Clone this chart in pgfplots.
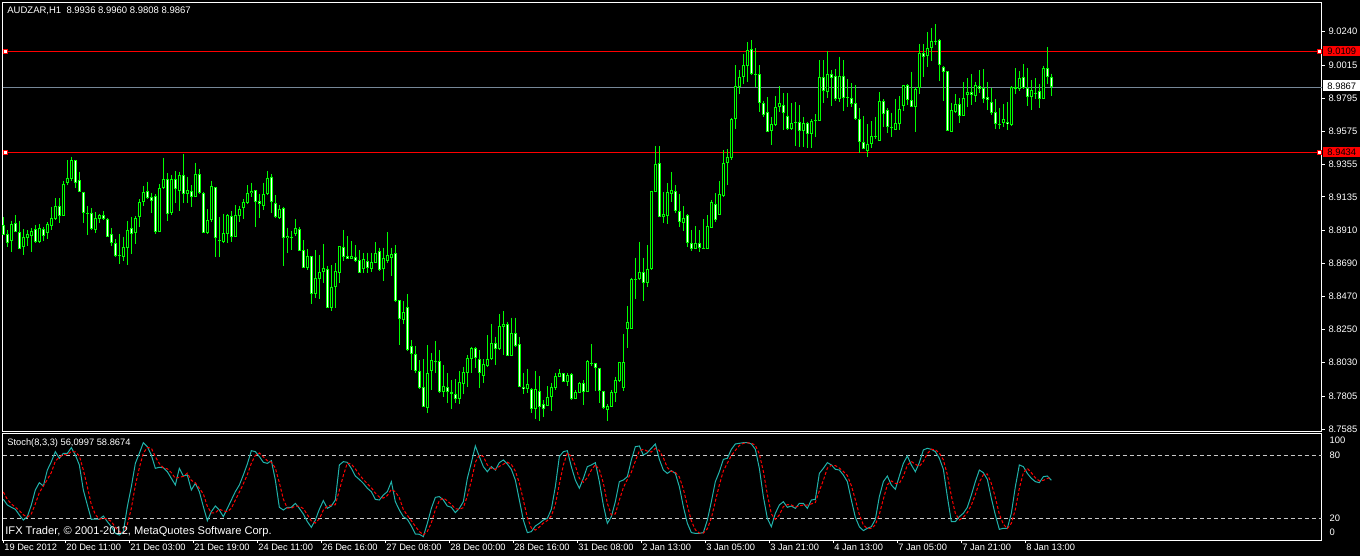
\documentclass[border=0pt]{standalone}
\usepackage{fontspec}
\setmainfont{Liberation Sans}
\usepackage{pgfplots}
\usepackage{pgfplotstable}
\pgfplotsset{compat=1.18}

\definecolor{candle}{RGB}{0,255,0}
\definecolor{kline}{RGB}{32,178,170}
\definecolor{bidline}{RGB}{119,136,153}
\definecolor{lvl}{RGB}{200,200,200}
\newcommand\mtfont{\fontsize{4.65}{5}\selectfont}
\newcommand\pricefont{\fontsize{4.7}{5}\selectfont}

% AUDZAR H1 candles: index, open, high, low, close
\pgfplotstableread{
i o h l c
0 8.8948 8.8999 8.8881 8.8881
1 8.8886 8.8915 8.8799 8.8830
2 8.8841 8.8975 8.8770 8.8953
3 8.8959 8.9015 8.8904 8.8904
4 8.8899 8.8975 8.8786 8.8786
5 8.8803 8.8919 8.8748 8.8866
6 8.8863 8.8915 8.8808 8.8886
7 8.8877 8.8926 8.8770 8.8906
8 8.8919 8.8948 8.8826 8.8837
9 8.8837 8.8955 8.8830 8.8926
10 8.8919 8.8933 8.8843 8.8877
11 8.8892 8.8966 8.8855 8.8953
12 8.8944 8.9071 8.8915 8.8993
13 8.8990 8.9126 8.8982 8.9075
14 8.9075 8.9126 8.8959 8.9010
15 8.9010 8.9242 8.9010 8.9220
16 8.9231 8.9382 8.9215 8.9260
17 8.9253 8.9405 8.9244 8.9382
18 8.9382 8.9382 8.9193 8.9231
19 8.9249 8.9304 8.9166 8.9166
20 8.9166 8.9171 8.8964 8.9026
21 8.9026 8.9075 8.8881 8.9026
22 8.9026 8.9060 8.8915 8.8919
23 8.8915 8.9037 8.8897 8.8993
24 8.8988 8.9022 8.8959 8.9015
25 8.9013 8.9042 8.8982 8.8990
26 8.8986 8.8993 8.8870 8.8870
27 8.8886 8.8926 8.8808 8.8826
28 8.8826 8.8855 8.8737 8.8743
29 8.8745 8.8888 8.8688 8.8745
30 8.8737 8.8870 8.8710 8.8799
31 8.8792 8.8975 8.8681 8.8915
32 8.8926 8.9004 8.8754 8.8888
33 8.8892 8.9008 8.8821 8.8993
34 8.8999 8.9120 8.8933 8.9100
35 8.9100 8.9211 8.9077 8.9166
36 8.9175 8.9238 8.9122 8.9131
37 8.9133 8.9164 8.9031 8.9111
38 8.9144 8.9153 8.8886 8.8904
39 8.8899 8.9222 8.8899 8.9193
40 8.9193 8.9398 8.9189 8.9253
41 8.9253 8.9293 8.8977 8.9022
42 8.9026 8.9282 8.9015 8.9253
43 8.9253 8.9309 8.9093 8.9186
44 8.9178 8.9304 8.9044 8.9282
45 8.9282 8.9422 8.9097 8.9153
46 8.9153 8.9271 8.9093 8.9182
47 8.9178 8.9215 8.9071 8.9133
48 8.9133 8.9365 8.9133 8.9287
49 8.9287 8.9322 8.9155 8.9160
50 8.9160 8.9171 8.8892 8.8892
51 8.8892 8.9055 8.8888 8.8982
52 8.8982 8.9244 8.8970 8.9209
53 8.9200 8.9200 8.8732 8.8859
54 8.8848 8.8999 8.8737 8.8848
55 8.8837 8.9022 8.8826 8.8892
56 8.8886 8.9022 8.8826 8.9015
57 8.9008 8.9042 8.8837 8.8870
58 8.8870 8.9082 8.8866 8.9015
59 8.9008 8.9075 8.8970 8.9055
60 8.9060 8.9122 8.8986 8.9102
61 8.9093 8.9215 8.9086 8.9160
62 8.9160 8.9231 8.9133 8.9178
63 8.9182 8.9182 8.8937 8.9104
64 8.9108 8.9153 8.8997 8.9086
65 8.9077 8.9231 8.9048 8.9155
66 8.9153 8.9309 8.9149 8.9264
67 8.9271 8.9287 8.9026 8.9100
68 8.9093 8.9149 8.8997 8.8999
69 8.8997 8.9082 8.8988 8.9055
70 8.9060 8.9071 8.8676 8.8859
71 8.8859 8.8930 8.8759 8.8875
72 8.8870 8.8910 8.8781 8.8870
73 8.8886 8.8988 8.8877 8.8926
74 8.8921 8.8933 8.8777 8.8777
75 8.8781 8.8848 8.8659 8.8663
76 8.8663 8.8788 8.8647 8.8741
77 8.8741 8.8741 8.8418 8.8485
78 8.8485 8.8781 8.8458 8.8592
79 8.8585 8.8748 8.8452 8.8632
80 8.8636 8.8821 8.8558 8.8659
81 8.8654 8.8676 8.8396 8.8396
82 8.8396 8.8681 8.8376 8.8536
83 8.8536 8.8692 8.8396 8.8641
84 8.8625 8.8808 8.8558 8.8808
85 8.8799 8.8915 8.8707 8.8736
86 8.8741 8.8874 8.8719 8.8719
87 8.8719 8.8841 8.8719 8.8741
88 8.8732 8.8814 8.8699 8.8710
89 8.8714 8.8781 8.8625 8.8625
90 8.8652 8.8759 8.8625 8.8719
91 8.8707 8.8763 8.8625 8.8663
92 8.8654 8.8763 8.8636 8.8699
93 8.8692 8.8834 8.8692 8.8763
94 8.8774 8.8797 8.8643 8.8647
95 8.8652 8.8797 8.8576 8.8725
96 8.8707 8.8901 8.8692 8.8748
97 8.8730 8.8797 8.8607 8.8754
98 8.8759 8.8814 8.8436 8.8443
99 8.8447 8.8447 8.8146 8.8318
100 8.8313 8.8440 8.8287 8.8365
101 8.8398 8.8487 8.8108 8.8113
102 8.8140 8.8180 8.7979 8.8084
103 8.8084 8.8140 8.7961 8.7975
104 8.7975 8.8046 8.7850 8.7857
105 8.7863 8.8050 8.7734 8.7734
106 8.7728 8.8146 8.7694 8.7957
107 8.7975 8.8091 8.7846 8.8046
108 8.8042 8.8173 8.7957 8.8042
109 8.8039 8.8113 8.7823 8.7830
110 8.7835 8.8013 8.7801 8.7872
111 8.7863 8.7957 8.7761 8.7835
112 8.7832 8.7912 8.7721 8.7819
113 8.7817 8.7919 8.7761 8.7785
114 8.7783 8.7970 8.7750 8.7897
115 8.7886 8.8002 8.7819 8.7964
116 8.7957 8.8079 8.7868 8.8057
117 8.8055 8.8135 8.7957 8.8124
118 8.8126 8.8135 8.7990 8.8062
119 8.8051 8.8113 8.7857 8.7957
120 8.7941 8.8050 8.7895 8.8017
121 8.8008 8.8213 8.8002 8.8050
122 8.8050 8.8287 8.8046 8.8157
123 8.8157 8.8202 8.8013 8.8117
124 8.8117 8.8353 8.8113 8.8273
125 8.8264 8.8373 8.8079 8.8287
126 8.8287 8.8302 8.8073 8.8075
127 8.8075 8.8329 8.8075 8.8224
128 8.8224 8.8329 8.8135 8.8142
129 8.8151 8.8200 8.7868 8.7868
130 8.7868 8.7961 8.7819 8.7852
131 8.7850 8.7988 8.7823 8.7883
132 8.7850 8.7857 8.7694 8.7716
133 8.7716 8.7973 8.7652 8.7850
134 8.7841 8.7939 8.7641 8.7730
135 8.7752 8.7779 8.7667 8.7716
136 8.7741 8.7872 8.7741 8.7797
137 8.7797 8.7895 8.7708 8.7863
138 8.7861 8.7961 8.7846 8.7939
139 8.7935 8.7984 8.7930 8.7961
140 8.7957 8.7961 8.7901 8.7901
141 8.7901 8.7957 8.7875 8.7944
142 8.7950 8.7957 8.7779 8.7788
143 8.7785 8.7846 8.7785 8.7830
144 8.7823 8.7899 8.7823 8.7890
145 8.7890 8.7912 8.7748 8.7835
146 8.7835 8.8046 8.7830 8.8037
147 8.8028 8.8153 8.8008 8.8028
148 8.8024 8.8028 8.7841 8.7990
149 8.7995 8.7995 8.7757 8.7841
150 8.7839 8.7841 8.7716 8.7723
151 8.7712 8.7752 8.7641 8.7739
152 8.7734 8.7846 8.7734 8.7830
153 8.7828 8.7935 8.7768 8.7912
154 8.7908 8.8035 8.7901 8.8031
155 8.7861 8.8220 8.7841 8.8031
156 8.8251 8.8407 8.8129 8.8298
157 8.8253 8.8596 8.8253 8.8587
158 8.8587 8.8730 8.8454 8.8587
159 8.8585 8.8837 8.8581 8.8634
160 8.8634 8.8730 8.8443 8.8558
161 8.8558 8.8814 8.8536 8.8654
162 8.8654 8.9177 8.8650 8.9177
163 8.9166 8.9475 8.9166 8.9355
164 8.9359 8.9475 8.8999 8.8999
165 8.8999 8.9166 8.8963 8.9021
166 8.9010 8.9226 8.8952 8.9166
167 8.9157 8.9302 8.9103 8.9179
168 8.9172 8.9215 8.9025 8.9043
169 8.9039 8.9155 8.8936 8.8965
170 8.8963 8.9074 8.8910 8.8992
171 8.9014 8.9021 8.8803 8.8825
172 8.8825 8.8914 8.8776 8.8787
173 8.8787 8.8941 8.8787 8.8825
174 8.8825 8.8914 8.8769 8.8796
175 8.8796 8.8987 8.8787 8.8791
176 8.8787 8.9014 8.8787 8.8941
177 8.8930 8.9114 8.8930 8.9101
178 8.9088 8.9159 8.8970 8.8981
179 8.9014 8.9241 8.9014 8.9155
180 8.9141 8.9449 8.9137 8.9359
181 8.9359 8.9453 8.9215 8.9399
182 8.9397 8.9664 8.9382 8.9653
183 8.9656 9.0016 8.9589 8.9876
184 8.9867 8.9983 8.9823 8.9934
185 8.9938 9.0090 8.9889 9.0016
186 9.0012 9.0168 8.9905 9.0117
187 9.0121 9.0183 8.9950 8.9954
188 8.9954 9.0128 8.9872 8.9954
189 8.9954 9.0016 8.9705 8.9760
190 8.9760 8.9776 8.9671 8.9682
191 8.9700 8.9800 8.9571 8.9571
192 8.9575 8.9671 8.9482 8.9620
193 8.9616 8.9809 8.9609 8.9738
194 8.9738 8.9876 8.9705 8.9760
195 8.9747 8.9827 8.9582 8.9698
196 8.9678 8.9827 8.9582 8.9587
197 8.9587 8.9760 8.9582 8.9627
198 8.9627 8.9767 8.9475 8.9638
199 8.9638 8.9749 8.9471 8.9578
200 8.9575 8.9671 8.9471 8.9627
201 8.9627 8.9638 8.9460 8.9553
202 8.9553 8.9656 8.9464 8.9642
203 8.9642 8.9687 8.9533 8.9649
204 8.9644 9.0050 8.9644 8.9934
205 8.9934 9.0050 8.9765 8.9843
206 8.9838 9.0110 8.9794 8.9954
207 8.9954 8.9983 8.9742 8.9932
208 8.9945 8.9990 8.9778 8.9787
209 8.9787 9.0072 8.9771 8.9943
210 8.9945 9.0050 8.9711 8.9794
211 8.9794 8.9921 8.9733 8.9803
212 8.9794 8.9894 8.9733 8.9754
213 8.9760 8.9883 8.9649 8.9653
214 8.9653 8.9731 8.9426 8.9500
215 8.9500 8.9676 8.9453 8.9453
216 8.9444 8.9622 8.9404 8.9486
217 8.9486 8.9642 8.9462 8.9540
218 8.9540 8.9671 8.9520 8.9540
219 8.9511 8.9836 8.9511 8.9776
220 8.9776 8.9787 8.9600 8.9687
221 8.9716 8.9727 8.9564 8.9600
222 8.9600 8.9698 8.9538 8.9600
223 8.9582 8.9789 8.9582 8.9627
224 8.9620 8.9809 8.9582 8.9720
225 8.9745 8.9881 8.9711 8.9881
226 8.9881 8.9887 8.9749 8.9783
227 8.9783 8.9972 8.9734 8.9734
228 8.9734 8.9872 8.9571 8.9858
229 8.9860 9.0157 8.9823 9.0094
230 9.0094 9.0157 8.9938 9.0072
231 9.0079 9.0235 9.0005 9.0128
232 9.0128 9.0261 9.0045 9.0174
233 9.0177 9.0290 9.0150 9.0177
234 9.0183 9.0188 8.9912 9.0014
235 9.0005 9.0010 8.9776 8.9972
236 8.9976 8.9976 8.9578 8.9578
237 8.9571 8.9765 8.9571 8.9716
238 8.9705 8.9823 8.9693 8.9754
239 8.9756 8.9794 8.9631 8.9678
240 8.9678 8.9901 8.9678 8.9794
241 8.9818 8.9927 8.9738 8.9836
242 8.9836 8.9956 8.9749 8.9818
243 8.9811 8.9905 8.9771 8.9881
244 8.9876 8.9983 8.9832 8.9858
245 8.9860 8.9987 8.9760 8.9789
246 8.9800 8.9903 8.9716 8.9783
247 8.9769 8.9860 8.9682 8.9698
248 8.9700 8.9787 8.9589 8.9620
249 8.9622 8.9729 8.9589 8.9622
250 8.9631 8.9756 8.9600 8.9653
251 8.9636 8.9767 8.9582 8.9620
252 8.9613 8.9876 8.9609 8.9867
253 8.9867 8.9994 8.9823 8.9854
254 8.9854 8.9976 8.9845 8.9927
255 8.9934 9.0023 8.9854 8.9860
256 8.9860 8.9994 8.9742 8.9800
257 8.9800 8.9916 8.9716 8.9849
258 8.9832 8.9927 8.9787 8.9832
259 8.9845 8.9889 8.9727 8.9789
260 8.9791 9.0012 8.9789 8.9994
261 8.9994 9.0134 8.9889 8.9934
262 8.9936 8.9960 8.9808 8.9867
}\candles

% Stochastic (8,3,3): index, main %K, signal %D
\pgfplotstableread{
i k d
0 38.0 45.0
1 32.7 38.0
2 30.5 33.7
3 28.6 30.6
4 23.2 27.4
5 18.4 23.4
6 21.6 21.1
7 32.7 24.2
8 46.9 33.7
9 53.8 44.5
10 50.7 50.5
11 65.8 56.8
12 73.7 63.4
13 83.2 74.2
14 76.9 77.9
15 81.6 80.6
16 81.6 80.0
17 87.0 83.4
18 80.0 82.9
19 70.6 79.2
20 46.9 65.8
21 32.7 50.1
22 19.1 32.9
23 19.4 23.7
24 19.1 19.2
25 22.2 20.2
26 16.9 19.4
27 12.1 17.1
28 5.8 11.6
29 4.2 7.4
30 7.4 5.8
31 31.1 14.2
32 50.0 29.5
33 72.1 51.1
34 81.6 67.9
35 91.7 81.8
36 87.9 87.1
37 80.0 86.5
38 67.4 78.4
39 68.4 71.9
40 68.0 67.9
41 64.2 66.9
42 57.9 63.4
43 51.6 57.9
44 67.4 59.0
45 60.1 59.7
46 61.1 62.9
47 46.9 56.0
48 53.2 53.7
49 45.3 48.5
50 31.1 43.2
51 17.8 31.4
52 26.4 25.1
53 31.7 25.3
54 27.9 28.7
55 21.6 27.1
56 29.5 26.3
57 37.4 29.5
58 45.3 37.4
59 51.6 44.8
60 61.1 52.7
61 71.5 61.4
62 84.1 72.2
63 83.2 79.6
64 78.5 81.9
65 73.1 78.3
66 72.1 74.6
67 74.7 73.3
68 56.3 67.7
69 30.5 53.8
70 27.9 38.2
71 30.5 29.6
72 30.5 29.6
73 34.2 31.7
74 29.5 31.4
75 24.1 29.3
76 16.9 23.5
77 11.5 17.5
78 18.4 15.6
79 28.6 19.5
80 36.8 27.9
81 29.5 31.6
82 31.7 32.7
83 37.4 32.9
84 70.6 46.6
85 73.7 60.6
86 73.1 72.5
87 67.4 71.4
88 60.1 66.9
89 56.9 61.5
90 53.2 56.7
91 48.5 52.9
92 45.3 49.0
93 38.0 43.9
94 37.4 40.2
95 42.1 39.2
96 45.3 41.6
97 54.8 47.4
98 35.8 45.3
99 27.9 39.5
100 21.6 28.4
101 19.1 22.9
102 12.8 17.8
103 5.2 12.4
104 4.9 7.6
105 2.7 4.3
106 15.3 7.6
107 29.5 15.8
108 39.9 28.2
109 40.6 36.7
110 37.4 39.3
111 31.7 36.6
112 30.5 33.2
113 25.4 29.2
114 29.5 28.5
115 35.8 30.2
116 57.9 41.1
117 72.8 55.5
118 88.6 73.1
119 78.5 80.0
120 69.0 78.7
121 64.2 70.6
122 69.0 67.4
123 65.8 66.3
124 72.8 69.2
125 75.3 71.3
126 71.5 73.2
127 66.5 71.1
128 56.3 64.8
129 37.4 53.4
130 18.4 37.4
131 6.5 20.8
132 7.4 10.8
133 12.8 8.9
134 15.3 11.8
135 18.4 15.5
136 20.0 17.9
137 28.6 22.3
138 50.0 32.9
139 78.5 52.4
140 83.2 70.6
141 84.1 81.9
142 69.0 78.8
143 56.3 69.8
144 48.5 57.9
145 57.9 54.2
146 69.0 58.5
147 70.6 65.8
148 72.8 70.8
149 54.8 66.1
150 32.7 53.4
151 15.3 34.3
152 21.6 23.2
153 35.8 24.2
154 54.8 37.4
155 56.3 49.0
156 59.5 56.9
157 75.3 63.7
158 87.9 74.2
159 88.6 83.9
160 80.0 85.5
161 82.2 83.6
162 86.4 82.9
163 90.5 86.4
164 75.9 84.3
165 65.8 77.4
166 62.6 68.1
167 65.2 64.5
168 62.6 63.5
169 50.0 59.3
170 31.1 47.9
171 15.3 32.1
172 6.5 17.6
173 5.8 9.2
174 5.8 6.0
175 6.5 6.0
176 18.4 10.2
177 35.8 20.2
178 54.8 36.3
179 64.2 51.6
180 75.9 65.0
181 76.9 72.3
182 85.4 79.4
183 90.5 84.3
184 91.1 89.0
185 91.7 91.1
186 91.7 91.5
187 90.5 91.3
188 85.4 89.2
189 67.4 81.1
190 40.6 64.5
191 20.0 42.7
192 12.1 24.2
193 24.8 19.0
194 32.7 23.2
195 35.8 31.1
196 30.5 33.0
197 31.7 32.7
198 29.5 30.6
199 34.2 31.8
200 34.2 32.6
201 29.5 32.6
202 37.4 33.7
203 38.0 35.0
204 62.6 46.0
205 67.4 56.0
206 72.8 67.6
207 70.6 70.3
208 66.5 70.0
209 65.8 67.6
210 61.1 64.5
211 54.8 60.6
212 37.4 51.1
213 21.0 37.7
214 12.1 23.5
215 8.4 13.8
216 10.6 10.4
217 12.1 10.4
218 19.1 13.9
219 40.6 23.9
220 54.8 38.2
221 60.1 51.8
222 51.6 55.5
223 47.5 53.1
224 60.1 53.1
225 72.1 59.9
226 79.1 70.4
227 70.6 73.9
228 64.2 71.3
229 72.8 69.2
230 84.8 73.9
231 86.4 81.3
232 85.4 85.5
233 83.2 85.0
234 76.9 81.8
235 66.5 75.5
236 40.6 61.3
237 16.9 41.3
238 16.9 24.8
239 21.6 18.5
240 24.8 21.1
241 30.5 25.6
242 42.1 32.5
243 54.8 42.5
244 65.8 54.2
245 63.3 61.3
246 56.9 62.0
247 39.0 53.1
248 23.2 39.7
249 9.6 23.9
250 10.6 14.5
251 10.6 10.3
252 24.8 15.3
253 50.0 28.5
254 70.6 48.5
255 69.0 63.2
256 62.6 67.4
257 57.9 63.2
258 54.8 58.4
259 53.8 55.5
260 59.5 56.0
261 60.1 57.8
262 56.1 58.9
}\stoch

\begin{document}
\begin{tikzpicture}
\fill[black] (0,0) rectangle (680pt,-278pt);
\path[use as bounding box] (0,0) rectangle (680pt,-278pt);

% price panel
\begin{axis}[
    at={(1.35pt,-215.85pt)}, anchor=south west,
    scale only axis, width=659.4pt, height=214.5pt,
    xmin=-0.16, xmax=329.54, ymin=8.7567, ymax=9.0433,
    axis line style={white, line width=0.5pt},
    xtick=\empty,
    ytick={8.7585,8.7805,8.8030,8.8250,8.8470,8.8690,8.8910,8.9135,8.9355,8.9575,8.9795,9.0015,9.0240},
    yticklabels={8.7585,8.7805,8.8030,8.8250,8.8470,8.8690,8.8910,8.9135,8.9355,8.9575,8.9795,9.0015,9.0240},
    ytick pos=right, yticklabel pos=right,
    tick align=outside, major tick length=1.5pt,
    tick style={white, line width=0.5pt},
    yticklabel style={font=\pricefont, text=white, inner sep=0pt, anchor=west, xshift=1.8pt},
    clip=false,
]
% horizontal lines
\addplot[red, line width=0.5pt, mark=none] coordinates {(-0.16,9.0109) (329.54,9.0109)};
\addplot[red, line width=0.5pt, mark=none] coordinates {(-0.16,8.9434) (329.54,8.9434)};
\addplot[bidline, line width=0.5pt, mark=none] coordinates {(-0.16,8.9867) (329.54,8.9867)};
\addplot[only marks, mark=square*, mark size=1pt, mark options={fill=white, draw=red, line width=0.4pt}]
    coordinates {(0.45,9.0109) (328.9,9.0109) (0.45,8.9434) (328.9,8.9434)};
% wicks
\addplot[draw=none, mark=none, error bars/.cd, y dir=minus, y explicit, error mark=none,
    error bar style={draw=candle, line width=0.5pt, solid}]
    table[x=i, y=h, y error minus expr={\thisrow{h}-\thisrow{l}}] {\candles};
% bodies
\addplot[draw=none, mark=none, error bars/.cd, y dir=minus, y explicit, error mark=none,
    error bar style={draw=candle, line width=1.5pt, solid}]
    table[x=i, y expr={max(\thisrow{o},\thisrow{c})},
          y error minus expr={max(abs(\thisrow{o}-\thisrow{c}),0.00067)}] {\candles};
% bear candles: white inside
\addplot[draw=none, mark=none, error bars/.cd, y dir=minus, y explicit, error mark=none,
    error bar style={draw=white, line width=0.5pt, solid}]
    table[x=i, y expr={max(\thisrow{o},\thisrow{c})-0.00067},
          y error minus expr={ifthenelse(\thisrow{o}>\thisrow{c}, max(abs(\thisrow{o}-\thisrow{c})-0.00134,0), 0)}] {\candles};
% bull candles: black inside
\addplot[draw=none, mark=none, error bars/.cd, y dir=minus, y explicit, error mark=none,
    error bar style={draw=black, line width=0.5pt, solid}]
    table[x=i, y expr={max(\thisrow{o},\thisrow{c})-0.00067},
          y error minus expr={ifthenelse(\thisrow{c}>\thisrow{o}, max(abs(\thisrow{o}-\thisrow{c})-0.00134,0), 0)}] {\candles};
% price tags on the right
\node[anchor=west, fill=red, text=black, font=\pricefont, inner sep=0pt, minimum width=18.7pt, minimum height=5.2pt, xshift=0.6pt]
    at (axis cs:329.54,9.0109) {9.0109};
\node[anchor=west, fill=white, text=black, font=\pricefont, inner sep=0pt, minimum width=18.7pt, minimum height=5.4pt, xshift=0.6pt, yshift=0.8pt]
    at (axis cs:329.54,8.9867) {8.9867};
\node[anchor=west, fill=red, text=black, font=\pricefont, inner sep=0pt, minimum width=18.7pt, minimum height=5.2pt, xshift=0.6pt]
    at (axis cs:329.54,8.9434) {8.9434};
\end{axis}

% stochastic panel
\begin{axis}[
    at={(1.35pt,-270pt)}, anchor=south west,
    scale only axis, width=659.4pt, height=53.15pt,
    xmin=-0.16, xmax=329.54, ymin=-0.5, ymax=100.2,
    axis line style={white, line width=0.5pt},
    ytick={7.1,20,80,94.2}, yticklabels={0,20,80,100},
    ytick pos=right, yticklabel pos=right,
    ytick style={draw=none},
    yticklabel style={font=\pricefont, text=white, inner sep=0pt, anchor=west, xshift=2.4pt},
    xtick={0,15.5,31.5,47.5,63.5,79.5,95.5,111.5,127.5,143.5,159.5,175.5,191.5,207.5,223.5,239.5,255.5},
    xticklabels={19 Dec 2012,20 Dec 11:00,21 Dec 03:00,21 Dec 19:00,24 Dec 11:00,26 Dec 16:00,27 Dec 08:00,28 Dec 00:00,28 Dec 16:00,31 Dec 08:00,2 Jan 13:00,3 Jan 05:00,3 Jan 21:00,4 Jan 13:00,7 Jan 05:00,7 Jan 21:00,8 Jan 13:00},
    xtick pos=bottom, tick align=outside, major tick length=1.5pt,
    xtick style={white, line width=0.5pt},
    xticklabel style={font=\mtfont, text=white, inner sep=0pt, anchor=north west, xshift=0.3pt, yshift=-0.4pt},
    clip=false,
]
\addplot[lvl, line width=0.5pt, dash pattern=on 2pt off 1.5pt, mark=none] coordinates {(-0.16,80) (329.54,80)};
\addplot[lvl, line width=0.5pt, dash pattern=on 2pt off 1.5pt, mark=none] coordinates {(-0.16,20) (329.54,20)};
\addplot[kline, line width=0.5pt, mark=none] table[x=i, y=k] {\stoch};
\addplot[red, line width=0.5pt, dash pattern=on 1.5pt off 1pt, mark=none] table[x=i, y=d] {\stoch};
\end{axis}

% texts
\node[anchor=west, text=white, font=\fontsize{4.75}{5}\selectfont, inner sep=0pt] at (3.5pt,-5.3pt) {AUDZAR,H1\ \ 8.9936 8.9960 8.9808 8.9867};
\node[anchor=west, text=white, font=\mtfont, inner sep=0pt] at (3.5pt,-221.6pt) {Stoch(8,3,3) 56,0997 58.8674};
\node[anchor=west, text=white, font=\fontsize{5.55}{6}\selectfont, inner sep=0pt] at (2.5pt,-265.8pt) {IFX Trader, © 2001-2012, MetaQuotes Software Corp.};
\end{tikzpicture}
\end{document}
